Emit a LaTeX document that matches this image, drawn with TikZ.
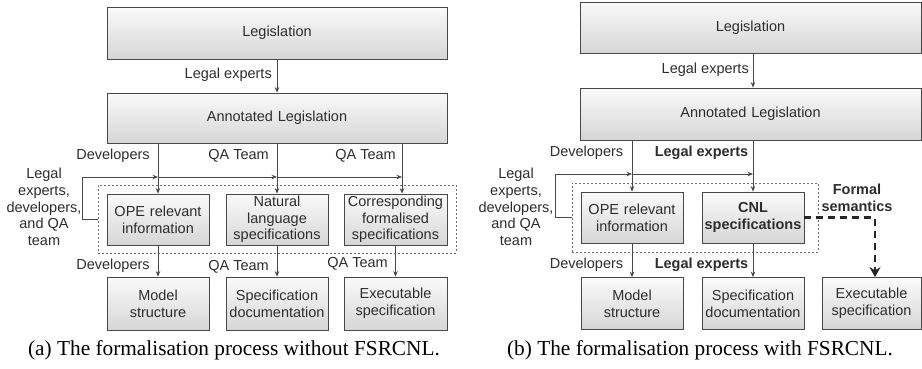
\documentclass[tikz,border=0pt]{standalone}
\usepackage{fontspec}
\setmainfont{Liberation Sans}
\newfontfamily\capfont{Liberation Serif}
\usetikzlibrary{arrows.meta}
\definecolor{edgecol}{RGB}{72,72,72}
\definecolor{txtcol}{RGB}{45,45,45}
\definecolor{boxtop}{RGB}{250,250,250}
\definecolor{boxbot}{RGB}{214,214,214}
\tikzset{
  procbox/.style={draw=edgecol, line width=0.8pt, top color=boxtop, bottom color=boxbot,
    align=center, text width=#1, inner sep=1pt, text=txtcol,
    font=\fontsize{14.5}{16.7}\selectfont},
  procbox/.default=98pt,
  groupbox/.style={draw=edgecol!80, line width=0.8pt, dash pattern=on 2pt off 2pt, inner sep=0pt},
  conn/.style={draw=edgecol, line width=0.7pt},
  arr/.style={conn, -{Stealth[length=5.5pt,width=4.5pt]}},
  fsarr/.style={draw=black!85, line width=2.6pt, dash pattern=on 7pt off 5pt,
    -{Stealth[length=10pt,width=11pt]}},
  lab/.style={text=txtcol, inner sep=0pt, font=\fontsize{14.5}{16.7}\selectfont},
  blab/.style={lab, font=\fontsize{14.5}{16.7}\selectfont\bfseries},
  sidelab/.style={lab, align=center},
  captext/.style={inner sep=0pt, font=\capfont\fontsize{21.3}{24}\selectfont}
}
\begin{document}
\begin{tikzpicture}[x=1pt,y=-1pt]
\useasboundingbox (0,0) rectangle (922,368);

%% ---------------- panel (a) ----------------
\node (La1) [procbox=334pt, minimum width=340pt, minimum height=52pt] at (277,33) {Legislation};
\node (La2) [procbox=334pt, minimum width=340pt, minimum height=50pt] at (277,118) {Annotated Legislation};
\node (Lope) [procbox, minimum width=102pt, minimum height=51pt] at (158,219.5) {OPE relevant\\information};
\node (Lnat) [procbox, minimum width=102pt, minimum height=51pt] at (277,219.5) {Natural\\language\\specifications};
\node (Lcor) [procbox=101pt, minimum width=103pt, minimum height=51pt] at (395.5,219.5) {Corresponding\\formalised\\specifications};
\node (Lmod) [procbox, minimum width=102pt, minimum height=53pt] at (158,303.5) {Model\\structure};
\node (Lspe) [procbox, minimum width=102pt, minimum height=53pt] at (277,303.5) {Specification\\documentation};
\node (Lexe) [procbox=101pt, minimum width=103pt, minimum height=53pt] at (395.5,303.5) {Executable\\specification};
\node (Lgrp) [groupbox, minimum width=358pt, minimum height=68pt] at (277,219) {};

\coordinate (Lqa) at (402,0);
\coordinate (Lbk) at (82,177);

\draw[arr] (La1.south) -- (La2.north);
\node[lab, anchor=east] (Llex) at (272,75) {Legal experts};

\draw[conn, line width=1.4pt] (La2.south -| Lope) -- ++(35,0);
\draw[conn, line width=1.4pt] (La2.south -| Lqa) -- ++(-40,0);
\draw[arr] (La2.south -| Lope) -- (Lope.north);
\draw[arr] (La2.south -| Lnat) -- (Lnat.north);
\draw[arr] (La2.south -| Lqa) -- (Lcor.north -| Lqa);

\draw[arr] (Lbk) -- (Lbk -| Lope);
\draw[arr] (Lbk -| Lope) -- (Lbk -| Lnat);
\draw[arr] (Lbk -| Lnat) -- (Lbk -| Lqa);
\draw[conn] (Lbk) |- (Lgrp.west);

\node[lab] (Ldev1) at (113,156) {Developers};
\node[lab] (Lqa1) at (238.5,156) {QA Team};
\node[lab] (Lqa2) at (365.5,156) {QA Team};
\node[sidelab] (Lside) at (44,207) {Legal\\experts,\\developers,\\and QA\\team};

\draw[arr] (Lope.south) -- (Lmod.north);
\draw[arr] (Lnat.south) -- (Lspe.north);
\draw[arr] (Lcor.south) -- (Lexe.north);

\node[lab] (Ldev2) at (113,266) {Developers};
\node[lab] (Lqa3) at (238.5,267) {QA Team};
\node[lab] (Lqa4) at (357.5,264) {QA Team};

\node[captext, anchor=base] (Lcap) at (234,355) {(a) The formalisation process without FSRCNL.};

%% ---------------- panel (b) ----------------
\node (Ra1) [procbox=335pt, minimum width=341pt, minimum height=51pt] at (750.5,27.5) {Legislation};
\node (Ra2) [procbox=335pt, minimum width=341pt, minimum height=52pt] at (750.5,114) {Annotated Legislation};
\node (Rope) [procbox, minimum width=102pt, minimum height=51pt] at (632,217.5) {OPE relevant\\information};
\node (Rcnl) [procbox, minimum width=102pt, minimum height=51pt, font=\fontsize{14.5}{16.7}\selectfont\bfseries] at (753,217.5) {CNL\\specifications};
\node (Rmod) [procbox, minimum width=102pt, minimum height=52pt] at (632,303.5) {Model\\structure};
\node (Rspe) [procbox, minimum width=102pt, minimum height=52pt] at (753,303.5) {Specification\\documentation};
\node (Rexe) [procbox=97pt, minimum width=99pt, minimum height=52pt] at (871.5,303.5) {Executable\\specification};
\node (Rgrp) [groupbox, minimum width=246pt, minimum height=69pt] at (695,217.5) {};

\coordinate (Rbk) at (555,174);
\coordinate (Rfs) at (875,0);

\draw[arr] (Ra1.south -| Rcnl) -- (Ra2.north -| Rcnl);
\node[lab, anchor=east] (Rlex) at (749,70) {Legal experts};

\draw[conn, line width=1.4pt] (Ra2.south -| Rope) -- ++(35,0);
\draw[arr] (Ra2.south -| Rope) -- (Rope.north);
\draw[arr] (Ra2.south -| Rcnl) -- (Rcnl.north);

\draw[arr] (Rbk) -- (Rbk -| Rope);
\draw[arr] (Rbk -| Rope) -- (Rbk -| Rcnl);
\draw[conn] (Rbk) |- (Rgrp.west);

\node[lab] (Rdev1) at (586.5,153) {Developers};
\node[blab] (Rlex1) at (701.5,153) {Legal experts};
\node[sidelab] (Rside) at (516,207) {Legal\\experts,\\developers,\\and QA\\team};

\draw[arr] (Rope.south) -- (Rmod.north);
\draw[arr] (Rcnl.south) -- (Rspe.north);
\draw[fsarr] (Rcnl.east) -- (Rcnl.east -| Rfs) -- (Rexe.north -| Rfs);
\node[blab, align=center] (Rfsl) at (857,198) {Formal\\semantics};

\node[lab] (Rdev2) at (586.5,265) {Developers};
\node[blab] (Rlex2) at (701.5,265) {Legal experts};

\node[captext, anchor=base] (Rcap) at (700,355) {(b) The formalisation process with FSRCNL.};
\end{tikzpicture}
\end{document}
